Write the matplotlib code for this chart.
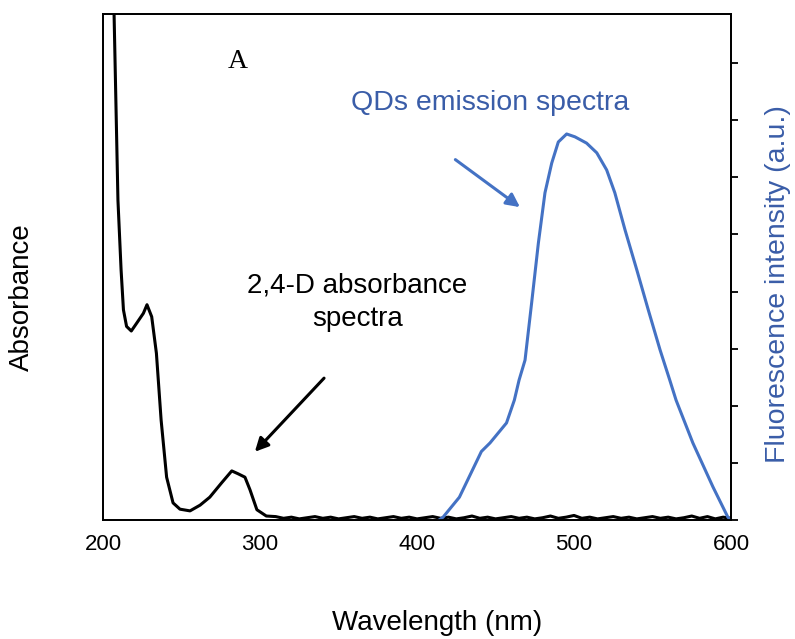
import numpy as np
import matplotlib
matplotlib.use("Agg")
from matplotlib import pyplot as plt

plt.rcParams['font.family'] = ['Liberation Sans', 'DejaVu Sans']

# 2,4-D absorbance (arbitrary units)
abs_wl = [205, 207, 209.5, 211.5, 213, 215, 218, 221.5, 225.7, 228, 231, 234, 237, 240.5,
          244.6, 249, 255.4, 261.8, 268, 275.5, 282, 286, 290.4, 293.6, 298, 304,
          310, 315, 320, 325, 330, 335, 340, 345, 350, 355, 360, 365, 370, 375, 380, 385,
          390, 395, 400, 405, 410, 415, 420, 425, 430, 435, 440, 445, 450, 455, 460, 465,
          470, 475, 480, 485, 490, 495, 500, 505, 510, 515, 520, 525, 530, 535, 540, 545,
          550, 555, 560, 565, 570, 575, 580, 585, 590, 595, 600]
abs_val = [10.5, 8.9, 5.6, 4.38, 3.68, 3.39, 3.31, 3.45, 3.62, 3.77, 3.56, 2.92, 1.75, 0.75,
           0.30, 0.19, 0.16, 0.26, 0.40, 0.65, 0.86, 0.81, 0.75, 0.53, 0.18, 0.07,
           0.06, 0.03, 0.05, 0.02, 0.04, 0.06, 0.03, 0.05, 0.02, 0.04, 0.06, 0.03, 0.05, 0.02,
           0.04, 0.06, 0.03, 0.05, 0.02, 0.04, 0.06, 0.03, 0.05, 0.02, 0.04, 0.07, 0.03, 0.05,
           0.02, 0.04, 0.06, 0.03, 0.05, 0.02, 0.04, 0.07, 0.03, 0.05, 0.08, 0.03, 0.05, 0.02,
           0.04, 0.06, 0.03, 0.05, 0.02, 0.04, 0.06, 0.03, 0.05, 0.02, 0.04, 0.07, 0.03, 0.06,
           0.02, 0.05, 0.03]

# QDs emission (arbitrary units)
em_wl = [411.5, 416.6, 427, 441, 446.5, 457, 462, 465, 468.8, 473, 477.3, 481.5, 485.8, 490,
         495.3, 500.6, 508, 514.5, 520.8, 526, 532.5, 540, 547.3, 554.8, 561, 565, 575.7,
         588.5, 598, 600]
em_val = [-0.05, 0.05, 0.40, 1.20, 1.35, 1.70, 2.10, 2.45, 2.80, 3.80, 4.85, 5.73, 6.25, 6.62,
          6.76, 6.71, 6.60, 6.43, 6.13, 5.73, 5.08, 4.38, 3.68, 2.98, 2.45, 2.10, 1.35,
          0.58, 0.05, 0.0]

blue_line = '#4472C4'
blue_text = '#3A5DA8'

fig = plt.figure(figsize=(7.95, 6.39), dpi=100)
ax = fig.add_axes([0.1296, 0.1862, 0.7899, 0.7918])
ax.plot(abs_wl, abs_val, color='black', lw=2.2)
ax.set_xlim(200, 600)
ax.set_ylim(0, 8.86)
ax.set_yticks([])
ax.set_xticks([200, 300, 400, 500, 600])
ax.tick_params(axis='x', length=0, labelsize=16, pad=10)
for s in ax.spines.values():
    s.set_linewidth(1.3)

ax2 = ax.twinx()
ax2.plot(em_wl, em_val, color=blue_line, lw=2.2)
ax2.set_ylim(0, 8.86)
ax2.set_yticks(range(0, 9))
ax2.set_yticklabels([])
ax2.tick_params(axis='y', direction='out', length=5, width=1.3)
for s in ax2.spines.values():
    s.set_linewidth(1.3)

ax.text(286, 8.03, 'A', family=['Liberation Serif', 'DejaVu Serif'], fontsize=20,
        ha='center', va='center')
ax.text(446.5, 7.3, 'QDs emission spectra', color=blue_text, fontsize=20.5,
        ha='center', va='center')
ax.text(362, 3.81, '2,4-D absorbance\nspectra', fontsize=20, ha='center', va='center',
        linespacing=1.35)

ax.annotate('', xy=(467, 5.45), xytext=(423, 6.34),
            arrowprops=dict(arrowstyle='-|>,head_length=0.8,head_width=0.4',
                            color=blue_line, lw=2.2))
ax.annotate('', xy=(295.5, 1.16), xytext=(342, 2.52),
            arrowprops=dict(arrowstyle='-|>,head_length=0.8,head_width=0.4',
                            color='black', lw=2.2))

fig.text(22 / 795, 1 - 297 / 639, 'Absorbance', rotation=90, fontsize=20,
         ha='center', va='center')
fig.text(778 / 795, 1 - 284 / 639, 'Fluorescence intensity (a.u.)', rotation=90,
         fontsize=20.5, color=blue_text, ha='center', va='center')
fig.text(437 / 795, 1 - 623 / 639, 'Wavelength (nm)', fontsize=20,
         ha='center', va='center')

fig.savefig('out.png', dpi=100)
